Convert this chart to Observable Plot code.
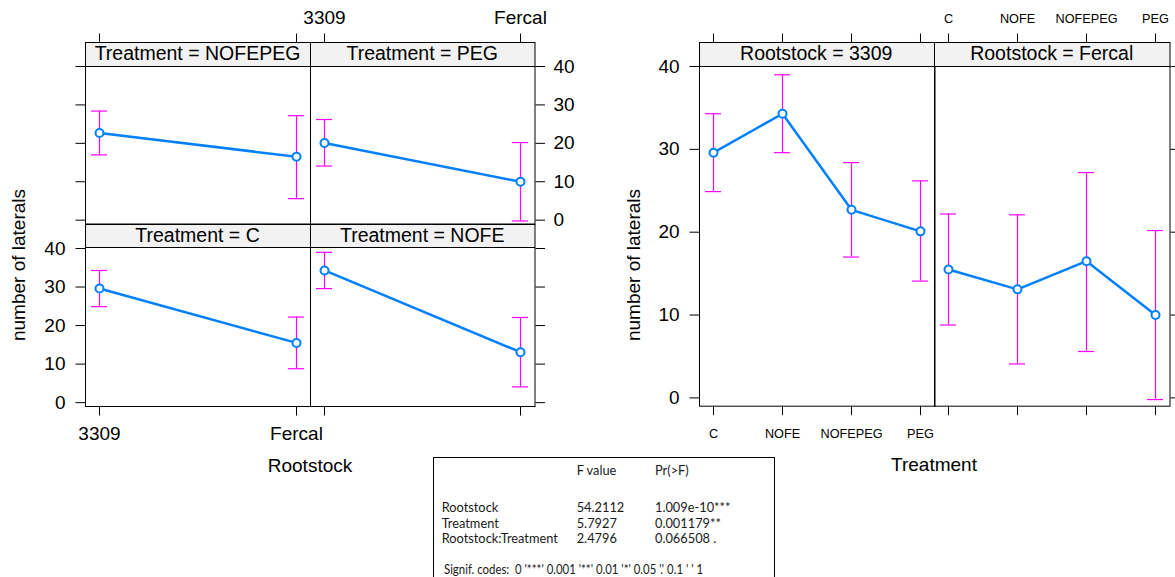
<!DOCTYPE html>
<html><head><meta charset="utf-8">
<script src="https://cdn.jsdelivr.net/npm/d3@7"></script>
<script src="https://cdn.jsdelivr.net/npm/@observablehq/plot@0.6"></script>
<style>
html,body{margin:0;padding:0;background:#fff;}
#root{position:relative;width:1175px;height:577px;overflow:hidden;font-family:"Liberation Sans",Arial,sans-serif;color:#000;background:#fff;}
.strip{position:absolute;box-sizing:border-box;background:#f2f2f2;border-bottom:1px solid #000;font-size:19.5px;display:flex;align-items:center;justify-content:center;white-space:nowrap;}
.lab{position:absolute;font-size:19px;white-space:nowrap;transform:translate(-50%,-50%);}
.ylab{position:absolute;font-size:19px;white-space:nowrap;transform:translate(-50%,-50%) rotate(-90deg);}
.tbox{position:absolute;left:432.5px;top:457px;width:342px;height:140px;border:1.5px solid #000;box-sizing:border-box;}
.tt{position:absolute;font-family:Lato,sans-serif;font-size:12.8px;color:#1a1a1a;white-space:pre;transform:translateY(-50%);transform-origin:0 50%;}
svg{position:absolute;}
</style></head><body><div id="root"></div>
<script>
// ---- data ----
const rootstocks = ["3309", "Fercal"];
const treatments = ["C", "NOFE", "NOFEPEG", "PEG"];
const mean3309 = [29.6, 34.3, 22.7, 20.1];
const lower3309 = [24.9, 29.6, 17.0, 14.1];
const upper3309 = [34.3, 39.0, 28.4, 26.2];
const meanFercal = [15.5, 13.1, 16.5, 10.0];
const lowerFercal = [8.8, 4.1, 5.6, -0.2];
const upperFercal = [22.2, 22.1, 27.2, 20.2];
const yTicks = [0, 10, 20, 30, 40];
const yLimits = [-1, 40];
const anovaHeader = ["F value", "Pr(>F)"];
const anovaTerms = ["Rootstock", "Treatment", "Rootstock:Treatment"];
const anovaF = ["54.2112", "5.7927", "2.4796"];
const anovaP = ["1.009e-10***", "0.001179**", "0.066508 ."];
const signifCodes = "Signif. codes:  0 '***' 0.001 '**' 0.01 '*' 0.05 '.' 0.1 ' ' 1";

const rows = treatments.flatMap((t, i) => [
  {rootstock: "3309", treatment: t, mean: mean3309[i], lower: lower3309[i], upper: upper3309[i]},
  {rootstock: "Fercal", treatment: t, mean: meanFercal[i], lower: lowerFercal[i], upper: upperFercal[i]}
]);

const BLUE = "#0080ff", MAG = "#ff00ff";
const FONT = "'Liberation Sans', Arial, sans-serif";
const root = document.getElementById("root");
const STRIP = 24;

function addDiv(cls, text, style) {
  const d = document.createElement("div");
  d.className = cls; d.textContent = text;
  Object.assign(d.style, style);
  root.appendChild(d);
  return d;
}

function panel(c) {
  const M = 60;
  const W = c.x1 - c.x0, H = c.bottom - c.stripTop;
  addDiv("strip", c.stripLabel, {left: c.x0 + "px", top: c.stripTop + "px", width: W + "px", height: (STRIP + 0.5) + "px"});
  const k = c.xKey;
  const marks = [
    Plot.ruleX(c.data, {x: k, y1: "lower", y2: "upper", stroke: MAG, strokeWidth: 1.2}),
    Plot.ruleY(c.data, {x1: k, x2: k, y: "lower", stroke: MAG, strokeWidth: 1.2, insetLeft: -8, insetRight: -8}),
    Plot.ruleY(c.data, {x1: k, x2: k, y: "upper", stroke: MAG, strokeWidth: 1.2, insetLeft: -8, insetRight: -8}),
    Plot.line(c.data, {x: k, y: "mean", stroke: BLUE, strokeWidth: 2.5}),
    Plot.dot(c.data, {x: k, y: "mean", r: 4, stroke: BLUE, strokeWidth: 2, fill: "white"}),
    Plot.frame({stroke: "black", strokeWidth: 1})
  ];
  const a = c.axes;
  const tick = {tickSize: 9.5, tickFormat: () => "", stroke: "black", strokeWidth: 1, label: null};
  if (a.top) marks.push(Plot.axisX(c.xDomain, {anchor: "top", ...tick}));
  if (a.bottom) marks.push(Plot.axisX(c.xDomain, {anchor: "bottom", ...tick}));
  if (a.left) marks.push(Plot.axisY(yTicks, {anchor: "left", ...tick}));
  if (a.right) marks.push(Plot.axisY(yTicks, {anchor: "right", ...tick}));
  if (a.top === 2) marks.push(Plot.text(c.xDomain, {x: d => d, text: d => d, frameAnchor: "top", dy: c.topDy, fontSize: c.xFont, lineAnchor: "middle", fill: "black"}));
  if (a.bottom === 2) marks.push(Plot.text(c.xDomain, {x: d => d, text: d => d, frameAnchor: "bottom", dy: c.botDy, fontSize: c.xFont, lineAnchor: "middle", fill: "black"}));
  if (a.left === 2) marks.push(Plot.text(yTicks, {y: d => d, text: d => String(d), frameAnchor: "left", dx: -20, textAnchor: "end", fontSize: 19, lineAnchor: "middle", fill: "black"}));
  if (a.right === 2) marks.push(Plot.text(yTicks, {y: d => d, text: d => String(d), frameAnchor: "right", dx: 18.5, textAnchor: "start", fontSize: 19, lineAnchor: "middle", fill: "black"}));
  const svg = Plot.plot({
    width: W + 2 * M, height: H + 2 * M,
    margin: M,
    style: {background: "none", overflow: "visible", fontFamily: FONT, maxWidth: "none"},
    x: {type: "point", domain: c.xDomain, padding: c.padding, axis: null, label: null},
    y: {domain: yLimits, range: [M + H, M + STRIP], axis: null, label: null},
    marks
  });
  svg.style.left = (c.x0 - M) + "px";
  svg.style.top = (c.stripTop - M) + "px";
  root.appendChild(svg);
}

// ---- left lattice: number of laterals ~ Rootstock | Treatment ----
const LC = [85, 310, 534.5];
const LR = [{stripTop: 42, bottom: 223.5}, {stripTop: 223.5, bottom: 405.5}];
const leftPanels = [
  {t: "NOFEPEG", col: 0, row: 0, axes: {top: 1, left: 1}},
  {t: "PEG", col: 1, row: 0, axes: {top: 2, right: 2}},
  {t: "C", col: 0, row: 1, axes: {left: 2, bottom: 2}},
  {t: "NOFE", col: 1, row: 1, axes: {bottom: 1, right: 1}}
];
for (const p of leftPanels) {
  panel({
    x0: LC[p.col], x1: LC[p.col + 1], stripTop: LR[p.row].stripTop, bottom: LR[p.row].bottom,
    stripLabel: "Treatment = " + p.t, xKey: "rootstock", xDomain: rootstocks, padding: 0.07,
    data: rows.filter(r => r.treatment === p.t), axes: p.axes, xFont: 19, topDy: -25, botDy: 27
  });
}
addDiv("lab", "Rootstock", {left: "310px", top: "466px"});
addDiv("ylab", "number of laterals", {left: "18.5px", top: "264.5px"});

// ---- right lattice: number of laterals ~ Treatment | Rootstock ----
const RC = [698.5, 934, 1169.5];
const rightPanels = [
  {r: "3309", col: 0, axes: {top: 1, left: 2, bottom: 2}},
  {r: "Fercal", col: 1, axes: {top: 2, bottom: 1, right: 1}}
];
for (const p of rightPanels) {
  panel({
    x0: RC[p.col], x1: RC[p.col + 1], stripTop: 42, bottom: 405.7,
    stripLabel: "Rootstock = " + p.r, xKey: "treatment", xDomain: treatments, padding: 0.2,
    data: rows.filter(r => r.rootstock === p.r), axes: p.axes, xFont: 12.7, topDy: -23.3, botDy: 27.6
  });
}
addDiv("lab", "Treatment", {left: "934px", top: "465px"});
addDiv("ylab", "number of laterals", {left: "634px", top: "264.5px"});

// ---- ANOVA table ----
addDiv("tbox", "", {});
addDiv("tt", anovaHeader[0], {left: "576.7px", top: "470px"});
addDiv("tt", anovaHeader[1], {left: "655px", top: "470px"});
const rowY = [506.7, 523.3, 538.3];
anovaTerms.forEach((t, i) => {
  addDiv("tt", t, {left: "441.7px", top: rowY[i] + "px"});
  addDiv("tt", anovaF[i], {left: "576.7px", top: rowY[i] + "px"});
  addDiv("tt", anovaP[i], {left: "655px", top: rowY[i] + "px"});
});
const sig = addDiv("tt", signifCodes, {left: "444px", top: "569.3px"});
const sw = sig.getBoundingClientRect().width;
if (sw > 0) sig.style.transform = `translateY(-50%) scaleX(${259 / sw})`;
</script></body></html>
